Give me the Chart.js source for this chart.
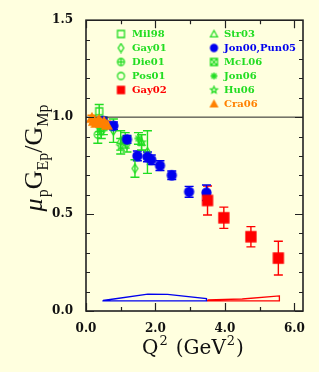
<!DOCTYPE html>
<html>
<head>
<meta charset="utf-8">
<script src="https://cdn.jsdelivr.net/npm/chart.js@4/dist/chart.umd.min.js"></script>
<style>
  html, body { margin: 0; padding: 0; background: #ffffdf; }
</style>
</head>
<body>
<canvas id="chart" width="319" height="372"></canvas>
<script>
// ---- data (Q^2 in GeV^2, ratio mu_p GE/GM, error) ----
const cra06Q2 = [0.17, 0.23, 0.3, 0.37, 0.44, 0.52, 0.6];
const cra06Ratio = [0.995, 0.98, 0.97, 0.985, 0.97, 0.975, 0.96];
const cra06Err = [0.015, 0.015, 0.015, 0.015, 0.015, 0.02, 0.02];

const gay02Q2 = [3.5, 3.97, 4.75, 5.54];
const gay02Ratio = [0.57, 0.481, 0.383, 0.273];
const gay02Err = [0.075, 0.055, 0.052, 0.087];

const jon00Q2 = [0.49, 0.79, 1.18, 1.48, 1.77, 1.88, 2.13, 2.47, 2.97, 3.47];
const jon00Ratio = [0.98, 0.955, 0.885, 0.80, 0.795, 0.78, 0.75, 0.70, 0.615, 0.61];
const jon00Err = [0.02, 0.02, 0.02, 0.025, 0.025, 0.025, 0.025, 0.022, 0.028, 0.04];

const mil98Q2 = [0.38, 0.5];
const mil98Ratio = [1.03, 0.95];
const mil98Err = [0.035, 0.04];

const gay01Q2 = [0.49, 0.79, 1.18, 1.41, 1.77];
const gay01Ratio = [0.97, 0.93, 0.86, 0.735, 0.82];
const gay01Err = [0.03, 0.06, 0.04, 0.045, 0.11];

const die01Q2 = [0.4];
const die01Ratio = [0.96];
const die01Err = [0.035];

const pos01Q2 = [0.34, 0.4, 0.44];
const pos01Ratio = [0.91, 0.95, 0.93];
const pos01Err = [0.045, 0.04, 0.04];

const str03Q2 = [1.0, 1.6];
const str03Ratio = [0.88, 0.87];
const str03Err = [0.05, 0.04];

const mcl06Q2 = [1.13];
const mcl06Ratio = [0.88];
const mcl06Err = [0.04];

const jon06Q2 = [1.51];
const jon06Ratio = [0.89];
const jon06Err = [0.03];

const hu06Q2 = [1.0, 1.6];
const hu06Ratio = [0.85, 0.87];
const hu06Err = [0.04, 0.04];

// systematic error bands
const bandBase = 0.052;
const blueBandQ2 = [0.49, 0.8, 1.78, 2.35, 3.47];
const blueBandTop = [0.055, 0.062, 0.087, 0.086, 0.064];
const redBandQ2 = [3.5, 4.5, 5.57];
const redBandTop = [0.057, 0.062, 0.078];

const xTickValues = [0, 2, 4, 6];
const yTickValues = [0, 0.5, 1.0, 1.5];

const GREEN = "#22dd22";
const BLUE = "#0000ee";
const RED = "#ff0000";
const ORANGE = "#ff8000";

const legendLeft = [
  { label: "Mil98", shape: "square", color: GREEN },
  { label: "Gay01", shape: "diamond", color: GREEN },
  { label: "Die01", shape: "circlecross", color: GREEN },
  { label: "Pos01", shape: "circle", color: GREEN },
  { label: "Gay02", shape: "squarefill", color: RED },
];
const legendRight = [
  { label: "Str03", shape: "triangle", color: GREEN },
  { label: "Jon00,Pun05", shape: "circlefill", color: BLUE },
  { label: "McL06", shape: "squarex", color: GREEN },
  { label: "Jon06", shape: "asterisk", color: GREEN },
  { label: "Hu06", shape: "star", color: GREEN },
  { label: "Cra06", shape: "trianglefill", color: ORANGE },
];

// ---- marker images ----
function makeMarker(shape, color, size) {
  const c = document.createElement("canvas");
  c.width = c.height = size + 4;
  const g = c.getContext("2d");
  const m = c.width / 2, r = size / 2;
  g.strokeStyle = color;
  g.fillStyle = color;
  g.lineWidth = 1.3;
  g.beginPath();
  if (shape === "square" || shape === "squarefill" || shape === "squarex") {
    g.rect(m - r, m - r, size, size);
    if (shape === "squarex") {
      g.moveTo(m - r, m - r); g.lineTo(m + r, m + r);
      g.moveTo(m + r, m - r); g.lineTo(m - r, m + r);
    }
  } else if (shape === "diamond") {
    g.moveTo(m, m - r * 1.25); g.lineTo(m + r * 0.8, m);
    g.lineTo(m, m + r * 1.25); g.lineTo(m - r * 0.8, m); g.closePath();
  } else if (shape === "circle" || shape === "circlefill" || shape === "circlecross") {
    g.arc(m, m, r, 0, Math.PI * 2);
    if (shape === "circlecross") {
      g.moveTo(m - r, m); g.lineTo(m + r, m);
      g.moveTo(m, m - r); g.lineTo(m, m + r);
    }
  } else if (shape === "triangle" || shape === "trianglefill") {
    g.moveTo(m, m - r); g.lineTo(m + r, m + r * 0.8);
    g.lineTo(m - r, m + r * 0.8); g.closePath();
  } else if (shape === "asterisk") {
    for (let k = 0; k < 4; k++) {
      const a = (k * Math.PI) / 4;
      g.moveTo(m - r * Math.cos(a), m - r * Math.sin(a));
      g.lineTo(m + r * Math.cos(a), m + r * Math.sin(a));
    }
  } else if (shape === "star") {
    for (let k = 0; k < 10; k++) {
      const a = -Math.PI / 2 + (k * Math.PI) / 5;
      const rr = k % 2 ? r * 0.45 : r;
      const px = m + rr * Math.cos(a), py = m + rr * Math.sin(a);
      k ? g.lineTo(px, py) : g.moveTo(px, py);
    }
    g.closePath();
  }
  if (shape.endsWith("fill")) g.fill();
  g.stroke();
  return c;
}

function pts(xs, ys) {
  return xs.map((x, i) => ({ x, y: ys[i] }));
}

function series(label, xs, ys, errs, shape, color, size) {
  return {
    label,
    data: pts(xs, ys),
    errors: errs,
    errColor: color,
    pointStyle: makeMarker(shape, color, size),
    showLine: false,
  };
}

function band(xs, top, color) {
  const poly = pts(xs, top).concat(xs.slice().reverse().map((x) => ({ x, y: bandBase })));
  poly.push(poly[0]);
  return {
    label: "band",
    data: poly,
    showLine: true,
    borderColor: color,
    borderWidth: 1.3,
    pointRadius: 0,
    fill: false,
    tension: 0,
  };
}

// ---- plugins ----
const errorBars = {
  id: "errorBars",
  beforeDatasetsDraw(chart) {
    const { ctx, scales: { x, y } } = chart;
    ctx.save();
    chart.data.datasets.forEach((ds) => {
      if (!ds.errors) return;
      ctx.strokeStyle = ds.errColor;
      ctx.lineWidth = 1.4;
      ds.data.forEach((p, i) => {
        const e = ds.errors[i];
        const px = x.getPixelForValue(p.x);
        const y1 = y.getPixelForValue(p.y - e);
        const y2 = y.getPixelForValue(p.y + e);
        ctx.beginPath();
        ctx.moveTo(px, y1); ctx.lineTo(px, y2);
        ctx.moveTo(px - 4.5, y1); ctx.lineTo(px + 4.5, y1);
        ctx.moveTo(px - 4.5, y2); ctx.lineTo(px + 4.5, y2);
        ctx.stroke();
      });
    });
    ctx.restore();
  },
};

const frame = {
  id: "frame",
  afterDatasetsDraw(chart) {
    const { ctx, chartArea: a, scales: { x, y } } = chart;
    ctx.save();
    ctx.strokeStyle = "#222";
    ctx.lineWidth = 1.2;
    ctx.beginPath();
    for (let v = 0; v <= 6; v++) {
      const px = Math.round(x.getPixelForValue(v)) + 0.5;
      const len = v % 2 === 0 ? 8 : 4;
      ctx.moveTo(px, a.bottom); ctx.lineTo(px, a.bottom - len);
      ctx.moveTo(px, a.top); ctx.lineTo(px, a.top + len);
    }
    for (let k = 0; k <= 15; k++) {
      const py = Math.round(y.getPixelForValue(k / 10)) + 0.5;
      const len = k % 5 === 0 ? 8 : 4;
      ctx.moveTo(a.left, py); ctx.lineTo(a.left + len, py);
      ctx.moveTo(a.right, py); ctx.lineTo(a.right - len, py);
    }
    ctx.stroke();
    ctx.lineWidth = 1.6;
    ctx.strokeRect(a.left, a.top, a.right - a.left, a.bottom - a.top);
    ctx.restore();
  },
};

function drawPieces(ctx, pieces, x0, y0) {
  let x = x0;
  pieces.forEach((p) => {
    ctx.font = p.font;
    ctx.fillText(p.t, x, y0 + (p.dy || 0));
    x += ctx.measureText(p.t).width + (p.gap || 0);
  });
  return x - x0;
}

function piecesWidth(ctx, pieces) {
  let w = 0;
  pieces.forEach((p) => {
    ctx.font = p.font;
    w += ctx.measureText(p.t).width + (p.gap || 0);
  });
  return w;
}

const titles = {
  id: "titles",
  afterDraw(chart) {
    const { ctx } = chart;
    ctx.save();
    ctx.fillStyle = "#111";
    ctx.textBaseline = "alphabetic";
    // x title
    const big = "20px 'DejaVu Serif'";
    const sup = "13px 'DejaVu Serif'";
    const xp = [
      { t: "Q", font: big, gap: 1 },
      { t: "2", font: sup, dy: -9, gap: 8 },
      { t: "(GeV", font: big, gap: 1 },
      { t: "2", font: sup, dy: -9, gap: 1 },
      { t: ")", font: big },
    ];
    const xw = piecesWidth(ctx, xp);
    drawPieces(ctx, xp, 193 - xw / 2, 354);
    // y title
    const yBig = "26px 'Liberation Serif'";
    const yMu = "italic 26px 'Liberation Serif'";
    const ySub = "16px 'Liberation Serif'";
    const yp = [
      { t: "\u03bc", font: yMu, gap: 1 },
      { t: "p", font: ySub, dy: 6 },
      { t: "G", font: yBig },
      { t: "Ep", font: ySub, dy: 6 },
      { t: "/", font: yBig },
      { t: "G", font: yBig },
      { t: "Mp", font: ySub, dy: 6 },
    ];
    const yw = piecesWidth(ctx, yp);
    ctx.translate(42, 158);
    ctx.rotate(-Math.PI / 2);
    drawPieces(ctx, yp, -yw / 2, 0);
    ctx.restore();
  },
};

const legendBox = {
  id: "legendBox",
  afterDraw(chart) {
    const { ctx } = chart;
    ctx.save();
    ctx.font = "bold 10px 'DejaVu Serif'";
    ctx.textBaseline = "middle";
    const put = (items, mx, tx) => {
      items.forEach((it, i) => {
        const yy = 34 + i * 14;
        const img = makeMarker(it.shape, it.color, 7);
        ctx.drawImage(img, mx - img.width / 2, yy - img.height / 2);
        ctx.fillStyle = it.color;
        ctx.fillText(it.label, tx, yy);
      });
    };
    put(legendLeft, 121, 132);
    put(legendRight, 214, 224);
    ctx.restore();
  },
};

const tickFont = { family: "DejaVu Serif", weight: "bold", size: 12 };

new Chart(document.getElementById("chart"), {
  type: "scatter",
  data: {
    datasets: [
      series("Cra06", cra06Q2, cra06Ratio, cra06Err, "trianglefill", ORANGE, 10),
      series("Gay02", gay02Q2, gay02Ratio, gay02Err, "squarefill", RED, 10),
      series("Jon00,Pun05", jon00Q2, jon00Ratio, jon00Err, "circlefill", BLUE, 9),
      series("Mil98", mil98Q2, mil98Ratio, mil98Err, "square", GREEN, 7),
      series("Gay01", gay01Q2, gay01Ratio, gay01Err, "diamond", GREEN, 7),
      series("Die01", die01Q2, die01Ratio, die01Err, "circlecross", GREEN, 7),
      series("Pos01", pos01Q2, pos01Ratio, pos01Err, "circle", GREEN, 7),
      series("Str03", str03Q2, str03Ratio, str03Err, "triangle", GREEN, 7),
      series("McL06", mcl06Q2, mcl06Ratio, mcl06Err, "squarex", GREEN, 7),
      series("Jon06", jon06Q2, jon06Ratio, jon06Err, "asterisk", GREEN, 8),
      series("Hu06", hu06Q2, hu06Ratio, hu06Err, "star", GREEN, 8),
      band(blueBandQ2, blueBandTop, BLUE),
      band(redBandQ2, redBandTop, RED),
      {
        label: "unity",
        data: [{ x: 0, y: 1 }, { x: 6.25, y: 1 }],
        showLine: true,
        borderColor: "#222",
        borderWidth: 1,
        pointRadius: 0,
      },
    ],
  },
  options: {
    responsive: false,
    animation: false,
    layout: { padding: { top: 14, right: 16, left: 0, bottom: 0 } },
    plugins: { legend: { display: false }, tooltip: { enabled: false } },
    scales: {
      x: {
        type: "linear",
        min: 0,
        max: 6.25,
        grid: { display: false, drawTicks: false },
        border: { display: false },
        afterBuildTicks: (s) => { s.ticks = xTickValues.map((v) => ({ value: v })); },
        afterFit: (s) => { s.height = 61; },
        ticks: { padding: 11, maxRotation: 0, font: tickFont, color: "#111", callback: (v) => v.toFixed(1) },
      },
      y: {
        min: 0,
        max: 1.5,
        grid: { display: false, drawTicks: false },
        border: { display: false },
        afterBuildTicks: (s) => { s.ticks = yTickValues.map((v) => ({ value: v })); },
        afterFit: (s) => { s.width = 86; },
        ticks: { padding: 13, font: tickFont, color: "#111", callback: (v) => v.toFixed(1) },
      },
    },
  },
  plugins: [errorBars, frame, titles, legendBox],
});
</script>
</body>
</html>
